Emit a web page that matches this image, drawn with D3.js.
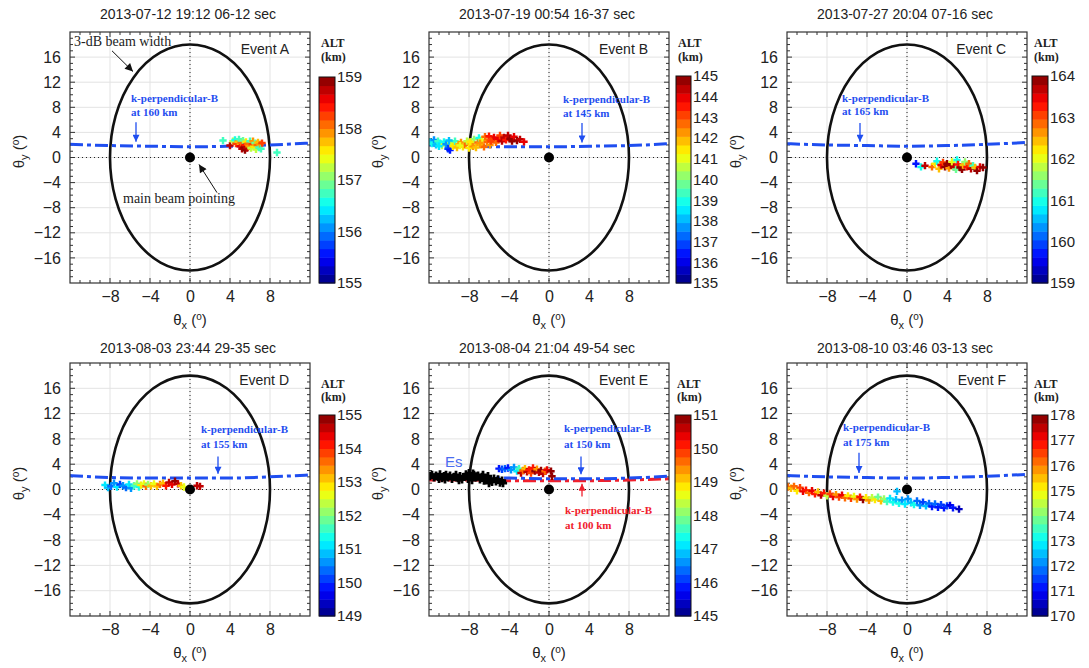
<!DOCTYPE html>
<html>
<head>
<meta charset="utf-8">
<script src="https://cdn.jsdelivr.net/npm/d3@7"></script>
<style>
  body { margin: 0; background: #fff; }
  svg { display: block; }
  text { font-family: "Liberation Sans", Arial, sans-serif; fill: #222; }
  .serif { font-family: "Liberation Serif", "Times New Roman", serif; }
</style>
</head>
<body>
<svg id="chart" width="1089" height="668"></svg>
<script>
// axis setup (degrees off beam centre)
const xDomain = [-12, 12];
const yDomain = [-20, 20];
const xTicks = [-8, -4, 0, 4, 8];
const yTicks = [-16, -12, -8, -4, 0, 4, 8, 12, 16];
const beamHalfWidth = [8, 18]; // 3-dB beam, x / y half widths

const titles = [
  '2013-07-12 19:12 06-12 sec', '2013-07-19 00:54 16-37 sec', '2013-07-27 20:04 07-16 sec',
  '2013-08-03 23:44 29-35 sec', '2013-08-04 21:04 49-54 sec', '2013-08-10 03:46 03-13 sec'
];
const events = ['Event A', 'Event B', 'Event C', 'Event D', 'Event E', 'Event F'];
const altRanges = [[155, 159], [135, 145], [159, 164], [149, 155], [145, 151], [170, 178]];
const kpAlts = [160, 145, 165, 155, 150, 175];

// k-perpendicular-B curves
const kpX = [-12, -8, -4, 0, 4, 8, 12];
const kpYA = [2.1, 1.9, 1.8, 1.7, 1.8, 2.0, 2.3];
const kpYB = [2.0, 1.8, 1.7, 1.7, 1.8, 1.9, 2.2];
const kpYC = [2.2, 2.0, 1.9, 1.8, 1.9, 2.1, 2.4];
const kpYD = [2.2, 1.9, 1.8, 1.8, 1.8, 2.0, 2.3];
const kpYE = [2.0, 1.9, 1.8, 1.7, 1.7, 1.8, 2.1];
const kpYF = [2.2, 2.0, 1.9, 1.8, 1.9, 2.1, 2.4];
const kpYE100 = [1.5, 1.5, 1.4, 1.4, 1.4, 1.5, 1.7];

// echoes: [thetaX, thetaY, altitude km]
const ptsA = [
  [3.3, 2.7, 156.8], [4.0, 1.9, 158.8], [4.3, 2.6, 157.3], [4.5, 2.8, 156.6], [4.6, 2.2, 158.2],
  [4.8, 2.5, 157.8], [4.9, 2.9, 156.8], [5.0, 1.8, 158.5], [5.1, 2.3, 158.0], [5.2, 1.4, 158.7],
  [5.3, 2.7, 156.9], [5.4, 1.6, 159.0], [5.5, 2.0, 158.4], [5.5, 1.2, 158.9], [5.6, 2.5, 157.6],
  [5.7, 1.5, 158.8], [5.8, 2.2, 158.1], [5.9, 1.8, 157.9], [6.0, 2.6, 156.7], [6.1, 1.5, 157.3],
  [6.2, 2.1, 158.3], [6.3, 2.6, 157.9], [6.4, 1.7, 157.5], [6.5, 2.3, 156.9], [6.6, 1.3, 157.2],
  [6.7, 2.0, 158.0], [6.8, 2.4, 157.8], [6.9, 1.6, 156.8], [7.0, 2.1, 157.9], [7.1, 1.4, 156.7],
  [7.2, 2.3, 158.3], [8.7, 0.8, 156.8]
];
const ptsB = [
  [-11.9, 2.5, 138.5], [-11.7, 2.2, 139.0], [-11.5, 2.8, 137.5], [-11.3, 2.0, 138.0], [-11.1, 2.6, 139.2],
  [-10.9, 2.3, 138.8], [-10.7, 1.9, 140.5], [-10.5, 2.5, 139.0], [-10.3, 2.1, 137.8], [-10.1, 1.4, 137.0],
  [-9.9, 1.2, 136.5], [-9.8, 2.3, 141.0], [-9.6, 1.8, 141.5], [-9.4, 2.6, 139.5], [-9.2, 1.6, 142.0],
  [-9.0, 2.1, 141.8], [-8.8, 2.4, 142.2], [-8.6, 1.7, 141.3], [-8.4, 2.0, 142.5], [-8.2, 2.6, 140.5],
  [-8.0, 1.5, 141.5], [-7.8, 2.2, 142.0], [-7.6, 1.8, 142.3], [-7.5, 2.9, 140.0], [-7.3, 1.6, 141.8],
  [-7.1, 2.4, 142.5], [-7.0, 3.1, 139.0], [-6.8, 2.0, 142.0], [-6.7, 2.8, 141.0], [-6.5, 1.7, 142.7],
  [-6.4, 3.3, 142.5], [-6.2, 2.5, 142.8], [-6.0, 3.4, 143.5], [-5.9, 2.0, 142.3], [-5.7, 2.9, 143.0],
  [-5.5, 3.2, 143.8], [-5.3, 2.4, 142.8], [-5.1, 3.0, 144.0], [-4.9, 3.5, 143.2], [-4.7, 2.6, 144.3],
  [-4.5, 3.2, 144.5], [-4.3, 2.8, 143.6], [-4.1, 3.5, 144.2], [-3.9, 3.0, 145.0], [-3.7, 2.6, 144.6],
  [-3.5, 3.3, 144.0], [-3.2, 2.7, 144.8], [-2.9, 2.9, 144.2], [-2.5, 2.5, 144.0], [-8.9, 1.9, 141.2],
  [-7.9, 2.5, 141.6], [-6.9, 2.3, 142.1], [-5.8, 2.6, 143.2], [-10.0, 2.7, 138.2], [-11.0, 1.8, 138.6]
];
const ptsC = [
  [0.9, -1.0, 159.8], [1.4, -1.5, 161.0], [1.8, -1.3, 163.6], [2.5, -1.5, 162.8], [2.8, -1.0, 162.3],
  [3.0, -0.6, 161.0], [3.2, -1.8, 162.5], [3.4, -1.2, 163.5], [3.6, -0.8, 163.0], [3.8, -1.5, 163.8],
  [4.0, -1.0, 163.9], [4.2, -1.7, 162.6], [4.4, -1.2, 164.0], [4.5, -0.7, 162.0], [4.7, -1.5, 163.7],
  [4.9, -1.9, 161.3], [5.0, -0.4, 161.0], [5.1, -1.1, 163.2], [5.3, -1.6, 163.9], [5.5, -1.9, 164.0],
  [5.6, -1.2, 162.4], [5.8, -0.7, 161.5], [6.0, -1.5, 163.3], [6.2, -1.0, 162.8], [6.4, -1.8, 163.6],
  [6.6, -1.3, 161.2], [6.8, -1.6, 162.5], [7.0, -2.1, 163.8], [7.3, -1.5, 163.5], [7.6, -1.6, 163.8]
];
const ptsD = [
  [-8.5, 0.7, 151.0], [-8.2, 0.3, 150.8], [-7.9, 0.5, 150.3], [-7.6, 1.0, 150.5], [-7.3, 0.4, 151.2],
  [-7.0, 0.8, 150.2], [-6.7, 0.6, 150.6], [-6.4, 0.3, 150.3], [-6.1, 0.8, 151.0], [-5.9, 0.2, 150.5],
  [-5.6, 0.6, 151.5], [-5.3, 0.9, 152.0], [-5.1, 0.4, 151.3], [-4.9, 0.7, 152.8], [-4.6, 0.9, 152.5],
  [-4.4, 0.5, 153.5], [-4.2, 0.8, 152.0], [-3.9, 0.6, 153.0], [-3.6, 0.9, 152.6], [-3.3, 0.5, 153.2],
  [-3.0, 0.8, 153.5], [-2.7, 1.0, 153.2], [-2.4, 0.6, 154.2], [-2.1, 1.1, 154.6], [-1.8, 0.8, 154.3],
  [-1.5, 1.3, 154.8], [-1.2, 0.9, 154.5], [-0.9, 0.6, 153.0], [-0.6, 0.4, 152.5], [0.7, 0.6, 154.5],
  [1.0, 0.5, 154.7]
];
const ptsE = [
  [-5.0, 3.3, 145.8], [-4.7, 3.2, 146.0], [-4.4, 3.3, 146.3], [-4.1, 3.4, 145.9], [-3.8, 3.1, 146.5],
  [-3.5, 3.5, 146.7], [-3.2, 2.9, 147.2], [-3.0, 3.3, 147.5], [-2.8, 2.6, 150.5], [-2.6, 3.0, 149.5],
  [-2.4, 3.3, 149.0], [-2.2, 2.8, 150.7], [-2.0, 3.1, 150.2], [-1.8, 2.6, 149.8], [-1.6, 3.4, 150.0],
  [-1.4, 2.9, 150.8], [-1.2, 3.2, 149.3], [-1.0, 2.7, 150.5], [-0.8, 3.0, 151.0], [-0.6, 2.5, 150.6],
  [-0.4, 2.9, 149.5], [-0.2, 3.1, 150.3], [0.2, 2.9, 151.0], [0.3, 2.1, 151.0]
];
const ptsF = [
  [-11.9, 0.4, 176.0], [-11.6, 0.2, 175.5], [-11.3, 0.5, 176.2], [-11.0, -0.2, 175.0], [-10.7, 0.3, 176.5],
  [-10.4, -0.3, 177.0], [-10.1, -0.1, 176.8], [-9.8, -0.5, 176.3], [-9.5, -0.2, 177.2], [-9.2, -0.7, 176.7],
  [-8.9, -0.4, 175.5], [-8.6, -0.9, 177.5], [-8.3, -0.6, 176.9], [-8.0, -1.0, 174.5], [-7.7, -0.7, 176.5],
  [-7.4, -1.1, 177.0], [-7.1, -0.8, 175.8], [-6.8, -1.2, 176.6], [-6.5, -0.9, 177.3], [-6.2, -1.3, 176.0],
  [-5.9, -1.0, 175.3], [-5.6, -1.4, 176.4], [-5.3, -1.1, 174.8], [-5.0, -1.5, 175.9], [-4.7, -1.2, 176.8],
  [-4.4, -1.6, 177.8], [-4.1, -1.3, 175.2], [-3.8, -1.7, 175.7], [-3.5, -1.3, 174.6], [-3.2, -1.6, 175.0],
  [-2.9, -1.2, 173.8], [-2.6, -1.8, 175.4], [-2.3, -1.5, 174.2], [-2.0, -1.9, 173.5], [-1.7, -1.4, 172.8],
  [-1.4, -2.0, 173.2], [-1.1, -1.6, 172.5], [-0.8, -2.2, 173.0], [-0.5, -1.7, 172.3], [-0.2, -2.3, 172.7],
  [0.1, -1.5, 172.0], [0.4, -2.1, 172.5], [0.7, -2.4, 173.0], [1.0, -1.8, 171.8], [1.3, -2.5, 172.2],
  [1.6, -2.0, 171.5], [1.9, -2.6, 172.4], [2.2, -2.2, 171.7], [2.5, -2.7, 171.3], [2.8, -2.3, 171.9],
  [3.1, -2.8, 171.2], [3.4, -2.4, 171.6], [3.7, -2.9, 171.0], [4.0, -2.6, 171.4], [4.3, -2.5, 170.8],
  [4.6, -2.9, 171.1], [5.2, -3.1, 170.6], [-1.0, -0.3, 172.6]
];
// sporadic-E echoes in event E (black)
const esE = [
  [-11.9, 2.1], [-11.7, 2.3], [-11.5, 1.9], [-11.3, 2.2], [-11.1, 2.0], [-10.9, 2.4], [-10.7, 1.8],
  [-10.5, 2.1], [-10.3, 2.3], [-10.1, 1.9], [-9.9, 2.2], [-9.7, 1.7], [-9.5, 2.0], [-9.3, 2.3],
  [-9.1, 1.8], [-8.9, 2.1], [-8.7, 1.6], [-8.5, 2.0], [-8.3, 2.4], [-8.1, 1.7], [-7.9, 2.1],
  [-7.7, 1.5], [-7.5, 2.3], [-7.3, 1.9], [-7.1, 2.2], [-6.9, 1.6], [-6.7, 2.0], [-6.5, 1.4],
  [-6.3, 1.8], [-6.1, 2.1], [-5.9, 1.5], [-5.7, 1.2], [-5.5, 1.7], [-5.3, 1.3], [-5.1, 1.6],
  [-4.9, 1.1], [-4.7, 1.4], [-4.6, 1.0], [-8.0, 2.6], [-7.6, 2.5], [-6.6, 2.3], [-10.4, 1.6],
  [-11.0, 1.7], [-9.0, 1.5], [-6.0, 1.0]
];

const pts = [ptsA, ptsB, ptsC, ptsD, ptsE, ptsF];
const kpY = [kpYA, kpYB, kpYC, kpYD, kpYE, kpYF];

// page layout, pixels: frame [l,t,r,b], colour bar [l,t,r,b]
const LAYOUT = [
  {frame: [70, 32, 310, 283], cbar: [319, 77, 335, 283], altY: 47, kmY: 61, titleY: 19},
  {frame: [429, 32, 669, 283], cbar: [676, 76, 691, 283], altY: 47, kmY: 61, titleY: 19},
  {frame: [787, 32, 1027, 283], cbar: [1032, 76, 1048, 283], altY: 47, kmY: 61, titleY: 19},
  {frame: [70, 363, 310, 616], cbar: [319, 415, 335, 616], altY: 388, kmY: 401, titleY: 353},
  {frame: [429, 363, 669, 616], cbar: [675, 415, 691, 616], altY: 388, kmY: 401, titleY: 353},
  {frame: [787, 363, 1027, 616], cbar: [1032, 415, 1048, 616], altY: 388, kmY: 401, titleY: 353}
];
// k-perp-B label placement in degrees: text left, two baselines, arrow x, arrow from/to
const KP_LABEL = [
  {tx: -5.9, t1: 8.8, t2: 6.6, ax: -5.4, a0: 5.6, a1: 2.5},
  {tx: 1.4, t1: 8.7, t2: 6.5, ax: 3.3, a0: 5.5, a1: 2.4},
  {tx: -6.5, t1: 8.9, t2: 6.7, ax: -4.7, a0: 5.5, a1: 2.5},
  {tx: 1.1, t1: 9.0, t2: 6.6, ax: 2.8, a0: 5.2, a1: 2.5},
  {tx: 1.5, t1: 9.1, t2: 6.6, ax: 3.2, a0: 5.2, a1: 2.4},
  {tx: -6.4, t1: 9.3, t2: 6.8, ax: -4.8, a0: 5.8, a1: 2.6}
];

const BLUE = '#1f4ef0';
const RED = '#f0202c';
const KP_DASH = '13,4,4,4';
const NBANDS = 24;

function jet(t) {
  const c = v => Math.round(255 * Math.max(0, Math.min(1, v)));
  return d3.rgb(c(1.5 - Math.abs(4 * t - 3)), c(1.5 - Math.abs(4 * t - 2)), c(1.5 - Math.abs(4 * t - 1)));
}
const bandColors = d3.range(NBANDS).map(i => jet((i + 0.5) / NBANDS).toString());

const svg = d3.select('#chart');
const defs = svg.append('defs');
[['blue', BLUE], ['red', RED], ['black', '#111']].forEach(([id, col]) => {
  defs.append('marker')
    .attr('id', 'ah-' + id)
    .attr('viewBox', '0 0 10 10')
    .attr('refX', 10).attr('refY', 5)
    .attr('markerUnits', 'userSpaceOnUse')
    .attr('markerWidth', id === 'black' ? 11 : 8)
    .attr('markerHeight', id === 'black' ? 8 : 7)
    .attr('orient', 'auto')
    .append('path').attr('d', 'M0,0 L10,5 L0,10 z').attr('fill', col);
});

const cross = d3.symbol().type(d3.symbolCross).size(30);

function arrow(g, x1, y1, x2, y2, color, id, w) {
  g.append('line')
    .attr('x1', x1).attr('y1', y1).attr('x2', x2).attr('y2', y2)
    .attr('stroke', color).attr('stroke-width', w)
    .attr('marker-end', `url(#ah-${id})`);
}

function kpText(g, x, y, lab, alt, color) {
  const t = g.append('text').attr('class', 'serif')
    .style('font-size', '11px').style('font-weight', 'bold').style('fill', color);
  t.append('tspan').attr('x', x(lab.tx)).attr('y', y(lab.t1)).text('k-perpendicular-B');
  t.append('tspan').attr('x', x(lab.tx)).attr('y', y(lab.t2)).text(`at ${alt} km`);
}

function drawPanel(i) {
  const L = LAYOUT[i];
  const [x0, y0, x1, y1] = L.frame;
  const x = d3.scaleLinear().domain(xDomain).range([x0, x1]);
  const y = d3.scaleLinear().domain(yDomain).range([y1, y0]);
  const [amin, amax] = altRanges[i];
  const color = d3.scaleQuantize().domain([amin, amax]).range(bandColors);
  const g = svg.append('g');

  defs.append('clipPath').attr('id', 'clip' + i)
    .append('rect').attr('x', x0).attr('y', y0).attr('width', x1 - x0).attr('height', y1 - y0);

  // title
  g.append('text')
    .attr('x', (x0 + x1) / 2 - 2).attr('y', L.titleY)
    .attr('text-anchor', 'middle')
    .style('font-size', '14px')
    .text(titles[i]);

  // grid
  const grid = g.append('g').attr('stroke', '#e3e3e3').attr('stroke-width', 1);
  grid.selectAll('.gx').data(xTicks).join('line')
    .attr('x1', d => x(d)).attr('x2', d => x(d)).attr('y1', y0).attr('y2', y1);
  grid.selectAll('.gy').data(yTicks).join('line')
    .attr('y1', d => y(d)).attr('y2', d => y(d)).attr('x1', x0).attr('x2', x1);

  // zero lines, dotted
  g.append('line').attr('x1', x(0)).attr('x2', x(0)).attr('y1', y0).attr('y2', y1)
    .attr('stroke', '#222').attr('stroke-dasharray', '1,3');
  g.append('line').attr('y1', y(0)).attr('y2', y(0)).attr('x1', x0).attr('x2', x1)
    .attr('stroke', '#222').attr('stroke-dasharray', '1,3');

  // inward ticks on all four sides
  const minorX = d3.range(-11, 12), minorY = d3.range(-19, 20);
  const tk = g.append('g').attr('stroke', '#333').attr('stroke-width', 1);
  minorX.forEach(v => {
    const len = xTicks.includes(v) ? 5 : 3;
    tk.append('line').attr('x1', x(v)).attr('x2', x(v)).attr('y1', y1).attr('y2', y1 - len);
    tk.append('line').attr('x1', x(v)).attr('x2', x(v)).attr('y1', y0).attr('y2', y0 + len);
  });
  minorY.forEach(v => {
    const len = yTicks.includes(v) ? 5 : 3;
    tk.append('line').attr('y1', y(v)).attr('y2', y(v)).attr('x1', x0).attr('x2', x0 + len);
    tk.append('line').attr('y1', y(v)).attr('y2', y(v)).attr('x1', x1).attr('x2', x1 - len);
  });

  // tick labels
  const ax = g.append('g').attr('transform', `translate(0,${y1})`)
    .call(d3.axisBottom(x).tickValues(xTicks).tickSize(0).tickPadding(8).tickFormat(d3.format('d')));
  const ay = g.append('g').attr('transform', `translate(${x0},0)`)
    .call(d3.axisLeft(y).tickValues(yTicks).tickSize(0).tickPadding(9).tickFormat(d3.format('d')));
  [ax, ay].forEach(a => {
    a.select('.domain').remove();
    a.selectAll('text').style('font-size', '16px').attr('fill', '#222')
      .style('font-family', '"Liberation Sans", Arial, sans-serif');
  });

  // axis titles
  const xt = g.append('text').attr('x', (x0 + x1) / 2).attr('y', y1 + 42)
    .attr('text-anchor', 'middle').style('font-size', '15px');
  xt.append('tspan').text('θ');
  xt.append('tspan').attr('dy', 4).style('font-size', '11px').text('x');
  xt.append('tspan').attr('dy', -4).text(' (');
  xt.append('tspan').attr('dy', -5).style('font-size', '10px').text('o');
  xt.append('tspan').attr('dy', 5).text(')');
  const yt = g.append('text')
    .attr('transform', `translate(${x0 - 46},${(y0 + y1) / 2 - 6}) rotate(-90)`)
    .attr('text-anchor', 'middle').style('font-size', '15px');
  yt.append('tspan').text('θ');
  yt.append('tspan').attr('dy', 4).style('font-size', '11px').text('y');
  yt.append('tspan').attr('dy', -4).text(' (');
  yt.append('tspan').attr('dy', -5).style('font-size', '10px').text('o');
  yt.append('tspan').attr('dy', 5).text(')');

  const inner = g.append('g').attr('clip-path', `url(#clip${i})`);

  // 3-dB beam ellipse
  inner.append('ellipse')
    .attr('cx', x(0)).attr('cy', y(0))
    .attr('rx', x(beamHalfWidth[0]) - x(0)).attr('ry', y(0) - y(beamHalfWidth[1]))
    .attr('fill', 'none').attr('stroke', '#111').attr('stroke-width', 2.6);

  const line = d3.line().x(d => x(d[0])).y(d => y(d[1])).curve(d3.curveMonotoneX);
  if (i === 4) {
    inner.append('path').attr('d', line(d3.zip(kpX, kpYE100)))
      .attr('fill', 'none').attr('stroke', RED).attr('stroke-width', 3)
      .attr('stroke-dasharray', KP_DASH).attr('stroke-dashoffset', 6);
  }
  inner.append('path').attr('d', line(d3.zip(kpX, kpY[i])))
    .attr('fill', 'none').attr('stroke', BLUE).attr('stroke-width', 3)
    .attr('stroke-dasharray', KP_DASH);

  if (i === 4) {
    inner.selectAll('.es').data(esE).join('path')
      .attr('transform', d => `translate(${x(d[0])},${y(d[1])})`)
      .attr('d', d3.symbol().type(d3.symbolCross).size(38)).attr('fill', '#000');
  }

  // echoes coloured by altitude
  inner.selectAll('.pt').data(pts[i]).join('path')
    .attr('transform', d => `translate(${x(d[0])},${y(d[1])})`)
    .attr('d', cross)
    .attr('fill', d => color(d[2]));

  // main beam pointing
  inner.append('circle').attr('cx', x(0)).attr('cy', y(0)).attr('r', 5).attr('fill', '#000');

  // frame
  g.append('rect').attr('x', x0).attr('y', y0).attr('width', x1 - x0).attr('height', y1 - y0)
    .attr('fill', 'none').attr('stroke', '#333').attr('stroke-width', 1.2);

  // event name
  g.append('text').attr('x', x(9.9)).attr('y', y(16.5)).attr('text-anchor', 'end')
    .style('font-size', '14px').text(events[i]);

  // k-perp-B label + arrow
  const lab = KP_LABEL[i];
  kpText(g, x, y, lab, kpAlts[i], BLUE);
  arrow(g, x(lab.ax), y(lab.a0), x(lab.ax), y(lab.a1), BLUE, 'blue', 1.3);

  if (i === 0) {
    g.append('text').attr('class', 'serif').attr('x', x(-11.6)).attr('y', y(17.8))
      .style('font-size', '14px').text('3-dB beam width');
    arrow(g, x(-7.8), y(17.0), x(-5.7), y(13.7), '#111', 'black', 1);
    g.append('text').attr('class', 'serif').attr('x', x(-6.7)).attr('y', y(-7.2))
      .style('font-size', '14px').text('main beam pointing');
    arrow(g, x(2.7), y(-5.6), x(0.9), y(-1.1), '#111', 'black', 1);
  }
  if (i === 4) {
    kpText(g, x, y, {tx: 1.6, t1: -3.9, t2: -6.3}, 100, RED);
    arrow(g, x(3.3), y(-1.1), x(3.3), y(0.9), RED, 'red', 1.3);
    g.append('text').attr('x', x(-10.4)).attr('y', y(3.6))
      .style('font-size', '15px').style('fill', '#4a6cf0').text('Es');
  }

  // colour bar
  const [c0, ct, c1, cb] = L.cbar;
  const cs = d3.scaleLinear().domain([amin, amax]).range([cb, ct]);
  const bandH = (cb - ct) / NBANDS;
  g.append('g').selectAll('rect').data(bandColors).join('rect')
    .attr('x', c0).attr('width', c1 - c0)
    .attr('y', (d, k) => cb - (k + 1) * bandH).attr('height', bandH + 0.5)
    .attr('fill', d => d);
  g.append('rect').attr('x', c0).attr('y', ct).attr('width', c1 - c0).attr('height', cb - ct)
    .attr('fill', 'none').attr('stroke', '#111').attr('stroke-width', 1);
  const ca = g.append('g').attr('transform', `translate(${c1},0)`)
    .call(d3.axisRight(cs).tickValues(d3.range(amin, amax + 1)).tickSize(0).tickPadding(2).tickFormat(d3.format('d')));
  ca.select('.domain').remove();
  ca.selectAll('text').style('font-size', '15px').attr('fill', '#222')
    .style('font-family', '"Liberation Sans", Arial, sans-serif');

  g.append('text').attr('class', 'serif').attr('x', c0 + 2).attr('y', L.altY)
    .style('font-size', '12px').style('font-weight', 'bold').text('ALT');
  g.append('text').attr('class', 'serif').attr('x', c0 + 2).attr('y', L.kmY)
    .style('font-size', '12px').style('font-weight', 'bold').text('(km)');
}

titles.forEach((t, i) => drawPanel(i));
</script>
</body>
</html>
